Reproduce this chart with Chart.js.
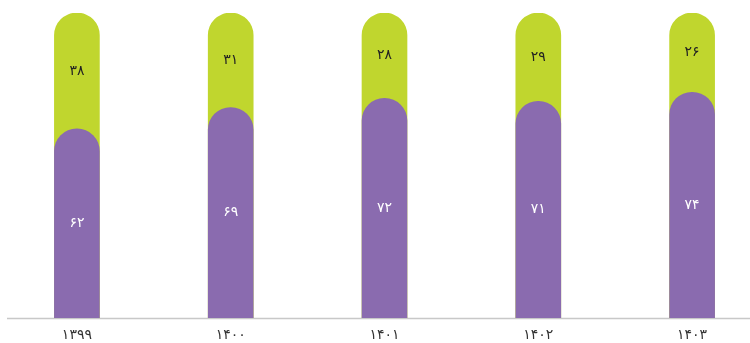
<!DOCTYPE html>
<html>
<head>
<meta charset="utf-8">
<script src="https://cdn.jsdelivr.net/npm/chart.js@4.4.1/dist/chart.umd.min.js"></script>
<style>
  html, body { margin: 0; padding: 0; background: #fff; }
  #wrap { width: 750px; height: 343px; overflow: hidden; }
</style>
</head>
<body>
<div id="wrap"><canvas id="chart" width="769" height="343"></canvas></div>
<script>
'use strict';

var years = ['۱۳۹۹', '۱۴۰۰', '۱۴۰۱', '۱۴۰۲', '۱۴۰۳'];
var purpleValues = [62, 69, 72, 71, 74];
var greenValues = [38, 31, 28, 29, 26];

var purple = 'rgb(138, 107, 175)';
var green = 'rgb(192, 214, 46)';
var fontFamily = '"DejaVu Sans", sans-serif';

function toPersian(n) {
  var digits = '۰۱۲۳۴۵۶۷۸۹';
  return String(n).replace(/[0-9]/g, function (d) { return digits[d]; });
}

// green bar goes all the way down so the purple cap sits on it
var greenTotals = [];
for (var i = 0; i < purpleValues.length; i++) {
  greenTotals.push(purpleValues[i] + greenValues[i]);
}

var labelPlugin = {
  id: 'segLabels',
  beforeDatasetsDraw: function (chart) {
    var c = chart.ctx;
    var area = chart.chartArea;
    c.save();
    c.strokeStyle = '#c8c8c8';
    c.lineWidth = 1.5;
    c.beginPath();
    c.moveTo(area.left + 7, area.bottom + 0.5);
    c.lineTo(area.right, area.bottom + 0.5);
    c.stroke();
    c.restore();
  },
  afterDatasetsDraw: function (chart) {
    var c = chart.ctx;
    var pBars = chart.getDatasetMeta(0).data;
    var gBars = chart.getDatasetMeta(1).data;
    c.save();
    c.font = '14px ' + fontFamily;
    c.textAlign = 'center';
    c.textBaseline = 'middle';
    for (var i = 0; i < pBars.length; i++) {
      var p = pBars[i];
      var g = gBars[i];
      c.fillStyle = '#222';
      c.fillText(toPersian(greenValues[i]), g.x, (g.y + p.y) / 2);
      c.fillStyle = '#fff';
      c.fillText(toPersian(purpleValues[i]), p.x, (p.y + p.base) / 2);
    }
    c.restore();
  }
};

var ctx = document.getElementById('chart').getContext('2d');

var chart = new Chart(ctx, {
  type: 'bar',
  data: {
    labels: years,
    datasets: [
      {
        label: 'purple',
        data: purpleValues,
        backgroundColor: purple,
        borderRadius: { topLeft: 23, topRight: 23, bottomLeft: 0, bottomRight: 0 },
        borderSkipped: false,
        barThickness: 45,
        grouped: false
      },
      {
        label: 'green',
        data: greenTotals,
        backgroundColor: green,
        borderRadius: { topLeft: 23, topRight: 23, bottomLeft: 0, bottomRight: 0 },
        borderSkipped: false,
        barThickness: 45,
        grouped: false
      }
    ]
  },
  options: {
    responsive: false,
    animation: false,
    layout: { padding: { top: 13, left: 0, right: 0, bottom: 0 } },
    plugins: {
      legend: { display: false },
      tooltip: { enabled: false }
    },
    scales: {
      x: {
        grid: { display: false },
        border: { display: false },
        afterFit: function (scale) { scale.height = 25; },
        ticks: {
          color: '#333',
          padding: 1,
          font: { family: fontFamily, size: 14 }
        }
      },
      y: {
        display: false,
        min: 0,
        max: 100
      }
    }
  },
  plugins: [labelPlugin]
});
</script>
</body>
</html>
